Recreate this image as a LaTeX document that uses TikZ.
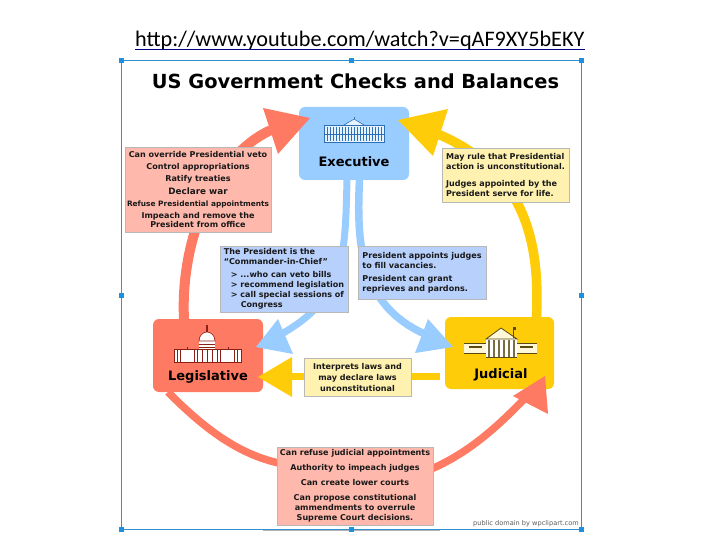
\documentclass[tikz,border=0pt]{standalone}
\usepackage{fontspec}
\setmainfont{DejaVu Sans}
\newfontfamily\urlfont{Carlito}
\definecolor{cblue}{HTML}{99CCFF}
\definecolor{cred}{HTML}{FF7A62}
\definecolor{cyel}{HTML}{FFCC0A}
\definecolor{bblue}{HTML}{B8D0FC}
\definecolor{bred}{HTML}{FFB9AC}
\definecolor{byel}{HTML}{FFF2B0}
\definecolor{fr}{HTML}{2E92D2}
\definecolor{hand}{HTML}{1E90E0}
\definecolor{iblue}{HTML}{2F6FB5}
\definecolor{ired}{HTML}{8E1F14}
\definecolor{ibrown}{HTML}{5A4A10}
\tikzset{
 branch/.style={fill=#1,rounded corners=6pt,draw=none,inner sep=0pt},
 infobox/.style={fill=#1,draw=black!28,line width=0.8pt,inner sep=0pt,font=\fontsize{8.05}{10}\bfseries\selectfont,text=black!90},
 shaft/.style={line width=#1},
 handle/.style={fill=hand,draw=none,minimum size=5pt,inner sep=0pt},
 btitle/.style={font=\fontsize{13}{15}\bfseries\selectfont,inner sep=0pt},
}
\begin{document}
\begin{tikzpicture}[x=1pt,y=-1pt]
\useasboundingbox (0,0) rectangle (720,540);
\fill[white] (0,0) rectangle (720,540);
% URL
\node[font=\urlfont\fontsize{22.2}{24}\selectfont,inner sep=0pt,anchor=base west] (url) at (135,47) {http://www.youtube.com/watch?v=qAF9XY5bEKY};
\coordinate (ula) at (135,49.5); \coordinate (ulb) at (585,49.5);
\draw[color=blue!50!black,line width=0.9pt] (ula) -- (ulb);
% frame
\node[draw=fr,line width=1pt,minimum width=460pt,minimum height=468pt,inner sep=0pt] (frame) at (351,295) {};
\coordinate (gla) at (263,530.5); \coordinate (glb) at (440,530.5);
\draw[black!30,line width=0.7pt] (gla) -- (glb);
\foreach \n/\x/\y in {h1/121/61,h2/351/61,h3/581/61,h4/121/295,h5/581/295,h6/121/529,h7/351/529,h8/581/529}
  \node[handle] (\n) at (\x,\y) {};
% title
\node[font=\fontsize{19.4}{22}\bfseries\selectfont,inner sep=0pt] (title) at (355.5,81) {US Government Checks and Balances};
% branch boxes
\node[branch=cblue,minimum width=110pt,minimum height=73pt] (exec) at (354,143.5) {};
\node[branch=cred,minimum width=110pt,minimum height=73pt] (leg) at (208,355.5) {};
\node[branch=cyel,minimum width=109pt,minimum height=72pt] (jud) at (499.5,353) {};
\node[btitle] (exect) at (354,162) {Executive};
\node[btitle] (legt) at (208,377) {Legislative};
\node[btitle] (judt) at (501,374.5) {Judicial};
% anchors for arrows
\coordinate (rt1) at (184,319);
\coordinate (rt2) at (271,130);
\coordinate (yt1) at (536.5,317);
\coordinate (yt2) at (425,129);
\coordinate (bl1) at (347,180);
\coordinate (bl2) at (276,337);
\coordinate (br1) at (359.5,180);
\coordinate (br2) at (432,337);
\coordinate (yh1) at (440,376.5);
\coordinate (yh2) at (290,376.5);
\coordinate (rb1) at (168,392);
\coordinate (rb2) at (529,394);
\coordinate (rb3) at (320,468);
\coordinate (rb4) at (400,480);
% shafts
\draw[cred,shaft=10pt] (rt1) .. controls (180,240) and (215,155) .. (rt2);
\draw[cyel,shaft=9.5pt] (yt1) .. controls (540,240) and (525,165) .. (yt2);
\draw[cblue,shaft=7pt] (bl1) .. controls (345,260) and (345,300) .. (bl2);
\draw[cblue,shaft=7.5pt] (br1) .. controls (356,250) and (362,310) .. (br2);
\draw[cyel,shaft=7pt] (yh1) -- (yh2);
\draw[cred,shaft=7.5pt] (rb1) .. controls (230,455) and (270,466) .. (rb3);
\draw[cred,shaft=7.5pt] (rb4) .. controls (455,465) and (490,435) .. (rb2);
% arrow heads
\fill[cred] (263,108) -- (310,118) -- (278,154) -- cycle;
\fill[cyel] (398,120) -- (448,109) -- (433,156) -- cycle;
\fill[cblue] (256,347) -- (278,319) -- (293,354) -- cycle;
\fill[cblue] (453,347) -- (428,319) -- (415,353) -- cycle;
\fill[cyel] (258,377) -- (292,357) -- (292,397) -- cycle;
\fill[cred] (545,376) -- (513,396) -- (548,414) -- cycle;
% info boxes
\node[infobox=bred,minimum width=146pt,minimum height=85pt,align=center] (b1) at (198,189.5)
{Can override Presidential veto\\[2.4pt]Control appropriations\\[2.4pt]Ratify treaties\\[2.4pt]{\fontsize{8.8}{10}\bfseries\selectfont Declare war}\\[2.2pt]{\fontsize{7.4}{10}\bfseries\selectfont Refuse Presidential appointments}\\[2.4pt]Impeach and remove the\\[-1pt]President from office};
\node[infobox=byel,minimum width=127pt,minimum height=54pt,align=left] (b2) at (505.5,175)
{May rule that Presidential\\action is unconstitutional.\\[7pt]Judges appointed by the\\President serve for life.};
\node[infobox=bblue,minimum width=128pt,minimum height=66pt,align=left] (b3) at (284,279)
{The President is the\\``Commander-in-Chief''\\[3pt]\hspace{7pt}> ...who can veto bills\\\hspace{7pt}> recommend legislation\\\hspace{7pt}> call special sessions of\\\hspace{17pt}Congress};
\node[infobox=bblue,minimum width=128pt,minimum height=53pt,align=left] (b4) at (422,272.5)
{President appoints judges\\to fill vacancies.\\[3pt]President can grant\\reprieves and pardons.};
\node[infobox=byel,minimum width=107pt,minimum height=38pt,align=center] (b5) at (357.5,377)
{Interprets laws and\\[1pt]may declare laws\\[1pt]unconstitutional};
\node[infobox=bred,minimum width=156pt,minimum height=78pt,align=center] (b6) at (355,486)
{Can refuse judicial appointments\\[5pt]Authority to impeach judges\\[5pt]Can create lower courts\\[5pt]Can propose constitutional\\ammendments to overrule\\Supreme Court decisions.};
\node[inner sep=0pt,font=\fontsize{6.6}{8}\selectfont,text=black!65] (credit) at (526,524) {public domain by wpclipart.com};
% Executive icon
\begin{scope}[shift={(354,132)}]
 \fill[white!75!cblue] (-30,-7) rectangle (30,10);
 \fill[white!75!cblue] (-9,-7) -- (0,-14) -- (9,-7) -- cycle;
 \draw[iblue,line width=0.6pt] (-30,-7) rectangle (30,10);
 \draw[iblue,line width=0.6pt] (-10,-7) -- (0,-13) -- (10,-7);
 \draw[iblue,line width=0.6pt] (0,-13) -- (0,-15);
 \foreach \x in {-27,-24,...,27} \draw[iblue,line width=0.5pt] (\x,-5) -- (\x,9);
 \draw[iblue,line width=0.5pt] (-30,2) -- (30,2);
\end{scope}
% Legislative icon
\begin{scope}[shift={(207,345)}]
 \fill[white] (-8,-4) arc (180:360:8 and 9) -- cycle;
 \fill[white] (-8,-4) rectangle (8,5);
 \draw[ired,line width=0.6pt] (-8,-4) arc (180:360:8 and 9) -- cycle;
 \fill[ired] (-1.2,-13) rectangle (1.2,-20);
 \draw[ired,line width=0.7pt] (-8,-1) -- (8,-1) (-8,2) -- (8,2) (-8,5) -- (8,5);
 \fill[white] (-33,4) rectangle (34,17);
 \draw[ired,line width=0.9pt] (-33,4) rectangle (34,17);
 \foreach \x in {-30,-27,-13,-10,-5,0,5,10,13,27,30} \draw[ired,line width=0.9pt] (\x,4) -- (\x,17);
 \foreach \x in {-20,21} \draw[ired,line width=0.9pt] (\x,2) -- (\x,4);
\end{scope}
% Judicial icon
\begin{scope}[shift={(501,348)}]
 \fill[white!85!cyel] (-37,-5) rectangle (36,5);
 \draw[ibrown,line width=0.7pt] (-37,-5) -- (36,-5) (-37,5) -- (36,5);
 \fill[white] (-15,-9) rectangle (16,9);
 \fill[white!85!cyel] (-15,-9) -- (0,-20) -- (16,-9) -- cycle;
 \draw[ibrown,line width=0.8pt] (-15,-9) -- (0,-20) -- (16,-9) -- cycle;
 \foreach \x in {-12,-7,-2,3,8,13} \fill[ibrown!80] (\x-.6,-8) rectangle (\x+.6,9);
 \draw[ibrown,line width=0.7pt] (-15,9) -- (16,9);
 \fill[ibrown] (-32,-2.5) rectangle (-19,0);
 \fill[ibrown] (19,-2.5) rectangle (32,0);
 \draw[ibrown,line width=0.7pt] (12,-21) -- (12,-10);
 \fill[ibrown] (12,-21) rectangle (15,-18);
\end{scope}
\end{tikzpicture}
\end{document}
